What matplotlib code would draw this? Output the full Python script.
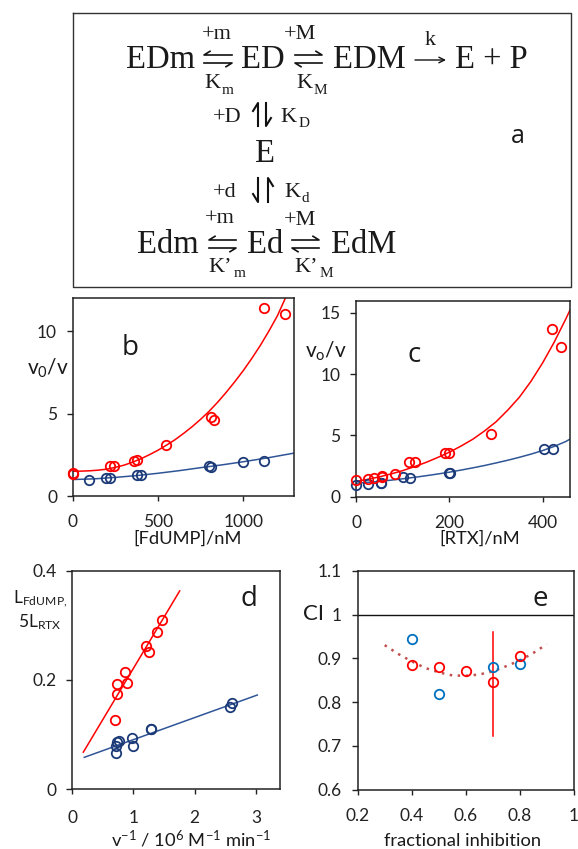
# -*- coding: utf-8 -*-
""" Schema cinetique et cinq panneaux (a-e) """

import matplotlib
matplotlib.use('Agg')
import matplotlib.pyplot as plt

W, H = 578, 849
SANS = 'Lato'
SERIF = 'Liberation Serif'

RED = '#ff0000'
NAVY = '#1c3a78'
LINE_BLUE = '#2f5597'
LIGHT_BLUE = '#0070c0'
DOT_RED = '#c0504d'

# panneau b
b_red_x = [0, 0, 219, 240, 360, 379, 549, 809, 830, 1123, 1246]
b_red_y = [1.40, 1.36, 1.84, 1.80, 2.15, 2.19, 3.08, 4.82, 4.62, 11.44, 11.03]
b_blue_x = [96, 197, 219, 375, 398, 797, 812, 998, 1123]
b_blue_y = [1.00, 1.07, 1.07, 1.30, 1.25, 1.84, 1.78, 2.06, 2.10]
b_red_fit_x = [0, 50, 100, 150, 200, 250, 300, 350, 400, 450, 500, 550, 600, 650, 700,
               750, 800, 850, 900, 950, 1000, 1050, 1100, 1150, 1200, 1250, 1270]
b_red_fit_y = [1.50, 1.51, 1.53, 1.57, 1.63, 1.74, 1.87, 2.05, 2.26, 2.51, 2.78, 3.09, 3.42, 3.80, 4.21,
               4.66, 5.15, 5.70, 6.30, 6.94, 7.62, 8.36, 9.15, 10.02, 10.95, 12.1, 12.6]
b_blue_fit_x = [0, 125, 250, 375, 500, 625, 750, 875, 1000, 1150, 1295]
b_blue_fit_y = [1.00, 1.04, 1.13, 1.24, 1.38, 1.54, 1.72, 1.89, 2.08, 2.33, 2.60]

# panneau c
c_red_x = [0, 26, 37, 56, 56, 84, 114, 127, 191, 198, 290, 421, 440]
c_red_y = [1.36, 1.41, 1.50, 1.68, 1.58, 1.87, 2.85, 2.83, 3.59, 3.59, 5.08, 13.7, 12.17]
c_blue_x = [0, 26, 52, 54, 100, 115, 199, 201, 402, 422]
c_blue_y = [0.95, 1.00, 1.09, 1.14, 1.58, 1.50, 1.96, 1.93, 3.89, 3.91]
c_fit_x = [0, 25, 50, 75, 100, 125, 150, 175, 200, 225, 250, 275, 300, 325, 350, 375, 400, 425, 450, 460]
c_red_fit_y = [1.25, 1.42, 1.62, 1.86, 2.13, 2.45, 2.80, 3.20, 3.63, 4.13, 4.68, 5.35, 6.10, 7.05, 8.10,
               9.40, 10.90, 12.6, 14.5, 15.3]
c_blue_fit_y = [1.10, 1.17, 1.25, 1.35, 1.46, 1.58, 1.71, 1.85, 2.00, 2.17, 2.35, 2.54, 2.75, 2.97, 3.21,
                3.47, 3.76, 4.10, 4.50, 4.72]

# panneau d
d_red_x = [0.70, 0.74, 0.74, 0.87, 0.89, 1.21, 1.25, 1.39, 1.47]
d_red_y = [0.127, 0.174, 0.193, 0.215, 0.194, 0.263, 0.251, 0.287, 0.310]
d_blue_x = [0.71, 0.71, 0.74, 0.77, 0.98, 0.99, 1.29, 1.29, 2.58, 2.61]
d_blue_y = [0.067, 0.079, 0.087, 0.088, 0.093, 0.079, 0.111, 0.110, 0.151, 0.157]
d_red_fit_x = [0.185, 1.755]
d_red_fit_y = [0.068, 0.363]
d_blue_fit_x = [0.20, 3.02]
d_blue_fit_y = [0.0585, 0.1725]

# panneau e
e_red_x = [0.4, 0.5, 0.6, 0.7, 0.8]
e_red_y = [0.885, 0.879, 0.872, 0.846, 0.905]
e_blue_x = [0.4, 0.5, 0.7, 0.8]
e_blue_y = [0.945, 0.818, 0.879, 0.887]
e_err_x = [0.7, 0.7]
e_err_y = [0.722, 0.959]
e_dot_x = [0.30, 0.35, 0.40, 0.45, 0.50, 0.55, 0.60, 0.65, 0.70, 0.75, 0.80, 0.85, 0.90]
e_dot_y = [0.930, 0.910, 0.893, 0.878, 0.868, 0.861, 0.860, 0.863, 0.870, 0.882, 0.895, 0.912, 0.932]

plt.rcParams['font.family'] = [SANS, 'DejaVu Sans']
plt.rcParams['mathtext.default'] = 'regular'

fig = plt.figure(figsize=(W / 100, H / 100), dpi=100)

# calque en pixels pour le schema et les libelles
over = fig.add_axes([0, 0, 1, 1], zorder=5)
over.set_xlim(0, W)
over.set_ylim(H, 0)
over.axis('off')


def txt(x, y, s, size, family=SANS, ha='left', color='#1a1a1a'):
    over.text(x, y, s, fontsize=size, family=family, ha=ha, va='baseline', color=color)


def panel(left, top, right, bottom, xlim, ylim, xticks, yticks, xlabels=None, ylabels=None, xpad=9.5):
    ax = fig.add_axes([left / W, 1 - bottom / H, (right - left) / W, (bottom - top) / H])
    ax.set_xlim(*xlim)
    ax.set_ylim(*ylim)
    ax.set_xticks(xticks)
    ax.set_yticks(yticks)
    if xlabels:
        ax.set_xticklabels(xlabels)
    if ylabels:
        ax.set_yticklabels(ylabels)
    ax.tick_params(axis='x', length=3.5, width=1.0, labelsize=12.5, pad=xpad, colors='#222222')
    ax.tick_params(axis='y', length=4.3, width=1.0, labelsize=12.5, pad=7, colors='#222222')
    for sp in ax.spines.values():
        sp.set_linewidth(1.1)
        sp.set_color('#222222')
    return ax


def circles(ax, x, y, color):
    ax.plot(x, y, 'o', mfc='none', mec=color, ms=6.8, mew=1.3, clip_on=False, zorder=4)


def harpoon_h(x0, x1, y, barb, head=6):
    # x0 = queue, x1 = pointe ; barb = -1 au-dessus, +1 en-dessous
    sens = 1 if x1 > x0 else -1
    over.plot([x0, x1, x1 - sens * head], [y, y, y + barb * head * 0.62], color='#111111', lw=1.2)


def harpoon_v(x, y0, y1, barb, head=8):
    sens = 1 if y1 > y0 else -1
    over.plot([x, x, x + barb * head * 0.62], [y0, y1, y1 - sens * head], color='#111111', lw=1.5)


# --- a : schema ---
over.plot([73.3, 571, 571, 73.3, 73.3], [12.7, 12.7, 287, 287, 12.7], color='#333333', lw=1.0)

txt(126, 68, 'EDm', 23.5, SERIF)
txt(241.5, 68, 'ED', 23.5, SERIF)
txt(333, 68, 'EDM', 23.5, SERIF)
txt(455, 68, 'E + P', 23.5, SERIF)
over.annotate('', xy=(446, 60), xytext=(415, 60),
              arrowprops=dict(arrowstyle='->', lw=1.0, color='#111111', shrinkA=0, shrinkB=0))
txt(424.5, 45, 'k', 16, SERIF)

txt(202, 39, '+m', 16, SERIF)
txt(284, 39, '+M', 16, SERIF)
txt(204, 88, 'K', 16, SERIF)
txt(222, 94, 'm', 11, SERIF)
txt(296.5, 88, 'K', 16, SERIF)
txt(314, 94, 'M', 11, SERIF)

txt(213, 122, '+D', 16, SERIF)
txt(280.5, 122, 'K', 16, SERIF)
txt(298.5, 127, 'D', 11, SERIF)
txt(255, 162, 'E', 23.5, SERIF)
txt(213, 197, '+d', 16, SERIF)
txt(284, 197, 'K', 16, SERIF)
txt(302, 202, 'd', 11, SERIF)

txt(205, 223, '+m', 16, SERIF)
txt(284, 225, '+M', 16, SERIF)
txt(137.5, 253, 'Edm', 23.5, SERIF)
txt(246.5, 253, 'Ed', 23.5, SERIF)
txt(330.5, 253, 'EdM', 23.5, SERIF)
txt(208, 272, 'K’', 16, SERIF)
txt(234, 277, 'm', 11, SERIF)
txt(294, 272, 'K’', 16, SERIF)
txt(320, 277, 'M', 11, SERIF)

harpoon_h(232, 204, 55, -1)
harpoon_h(204, 232, 63, 1)
harpoon_h(295, 322, 55, -1)
harpoon_h(322, 295, 63, 1)
harpoon_h(236, 209, 240, -1)
harpoon_h(209, 236, 248, 1)
harpoon_h(292, 319, 240, -1)
harpoon_h(319, 292, 248, 1)
harpoon_v(258, 126, 103, -1)
harpoon_v(266, 103, 126, 1)
harpoon_v(258, 178, 202, -1)
harpoon_v(268, 202, 178, 1)
txt(510.5, 143, 'a', 18, 'Open Sans')

# --- b ---
ax_b = panel(72.7, 298, 293.7, 496, (0, 1295), (0, 12.02), [0, 500, 1000], [0, 5, 10])
ax_b.plot(b_red_fit_x, b_red_fit_y, color=RED, lw=1.1)
ax_b.plot(b_blue_fit_x, b_blue_fit_y, color=LINE_BLUE, lw=1.1)
circles(ax_b, b_blue_x, b_blue_y, NAVY)
circles(ax_b, b_red_x, b_red_y, RED)
txt(26.7, 375, 'v$_0$/v', 15)
txt(121.5, 355, 'b', 20, 'Open Sans')
txt(187.5, 544, '[FdUMP]/nM', 13.2, ha='center')

# --- c ---
ax_c = panel(356.3, 301, 570.3, 496.7, (0, 459.5), (0, 15.95), [0, 200, 400], [0, 5, 10, 15])
ax_c.plot(c_fit_x, c_red_fit_y, color=RED, lw=1.1)
ax_c.plot(c_fit_x, c_blue_fit_y, color=LINE_BLUE, lw=1.1)
circles(ax_c, c_blue_x, c_blue_y, NAVY)
circles(ax_c, c_red_x, c_red_y, RED)
txt(305, 358, 'v$_o$/v', 15)
txt(407.5, 361.5, 'c', 20, 'Open Sans')
txt(479.5, 544, '[RTX]/nM', 13.2, ha='center')

# --- d ---
ax_d = panel(72, 570.7, 280, 789.3, (0, 3.39), (0, 0.4), [0, 1, 2, 3], [0, 0.2, 0.4],
             ylabels=['0', '0.2', '0.4'], xpad=11.5)
ax_d.plot(d_red_fit_x, d_red_fit_y, color=RED, lw=1.1)
ax_d.plot(d_blue_fit_x, d_blue_fit_y, color=LINE_BLUE, lw=1.1)
circles(ax_d, d_blue_x, d_blue_y, NAVY)
circles(ax_d, d_red_x, d_red_y, RED)
txt(13, 603, 'L$_{FdUMP,}$', 12.5)
txt(18, 627.5, '5L$_{RTX}$', 12.5)
txt(240, 606.5, 'd', 20, 'Open Sans')
txt(191.5, 846.5, 'v$^{-1}$ / 10$^{6}$ M$^{-1}$ min$^{-1}$', 13.2, ha='center')

# --- e ---
ax_e = panel(357.7, 570.7, 573.7, 789.7, (0.2, 1.0), (0.6, 1.1),
             [0.2, 0.4, 0.6, 0.8, 1.0], [0.6, 0.7, 0.8, 0.9, 1.0, 1.1],
             xlabels=['0.2', '0.4', '0.6', '0.8', '1'],
             ylabels=['0.6', '0.7', '0.8', '0.9', '1', '1.1'])
ax_e.axhline(1.0, color='#111111', lw=1.0)
ax_e.plot(e_dot_x, e_dot_y, color=DOT_RED, lw=1.8, ls=(0, (1, 2.2)))
ax_e.plot(e_err_x, e_err_y, color=RED, lw=1.1)
circles(ax_e, e_blue_x, e_blue_y, LIGHT_BLUE)
circles(ax_e, e_red_x, e_red_y, RED)
txt(303, 620, 'CI', 16)
txt(532, 605.5, 'e', 20, 'Open Sans')
txt(462.5, 846.5, 'fractional inhibition', 13.2, ha='center')

fig.savefig('out.png', dpi=100)
